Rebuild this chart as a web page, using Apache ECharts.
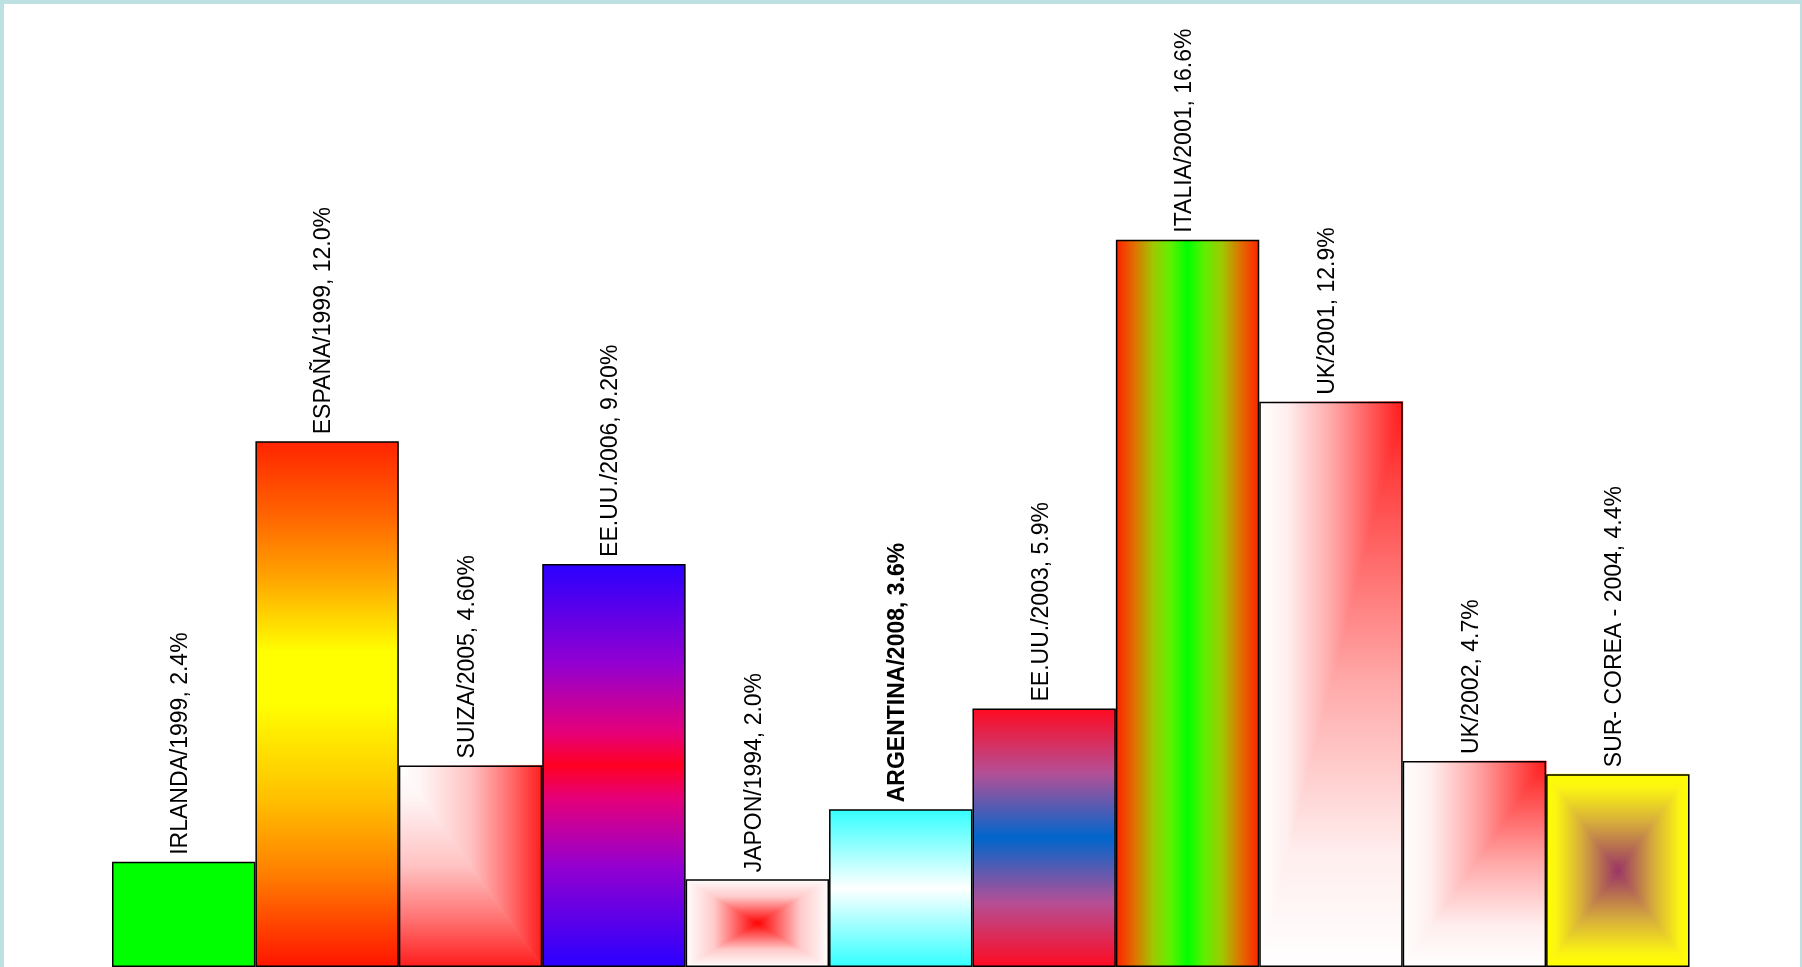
<!DOCTYPE html>
<html>
<head>
<meta charset="utf-8">
<script src="https://cdn.jsdelivr.net/npm/echarts@6/dist/echarts.min.js"></script>
<style>
  html, body { margin: 0; padding: 0; background: #ffffff; }
  #chart { position: absolute; left: 0; top: 0; width: 1802px; height: 967px; }
  #frame {
    position: absolute; left: 0; top: 0; width: 1802px; height: 967px;
    box-sizing: border-box; pointer-events: none;
    border-top: 4px solid #bde0e2; border-left: 4px solid #bde0e2; border-right: 2px solid #bde0e2;
  }
</style>
</head>
<body>
<div id="chart"></div>
<div id="frame"></div>
<script>
// Country / year of each episode
const categories = [
  'IRLANDA/1999', 'ESPAÑA/1999', 'SUIZA/2005', 'EE.UU./2006', 'JAPON/1994',
  'ARGENTINA/2008', 'EE.UU./2003', 'ITALIA/2001', 'UK/2001', 'UK/2002', 'SUR- COREA - 2004'
];
// Percentage for each episode
const values = [2.4, 12.0, 4.6, 9.2, 2.0, 3.6, 5.9, 16.6, 12.9, 4.7, 4.4];
// Percentage as written in each label
const valueLabels = ['2.4%', '12.0%', '4.60%', '9.20%', '2.0%', '3.6%', '5.9%', '16.6%', '12.9%', '4.7%', '4.4%'];

// Fill of each bar: solid colour, linear gradient, or rectangular gradient
// (rectangular: focus point in the bar's unit box, stops run from focus to edge)
const fills = [
  { type: 'solid', color: '#00ff00' },
  { type: 'linear', dir: 'v', stops: [[0, '#ff2400'], [0.14, '#ff6400'], [0.26, '#ffa400'], [0.4, '#ffff00'], [0.5, '#ffff00'], [0.68, '#ffc000'], [0.82, '#ff8000'], [1, '#ff1400']] },
  { type: 'rect', focus: [0, 0], stops: [[0, '#ffffff'], [0.15, '#fff6f6'], [0.5, '#ffc2c2'], [0.75, '#ff7676'], [1, '#ff1c1c']] },
  { type: 'linear', dir: 'v', stops: [[0, '#2a00ff'], [0.25, '#9400d0'], [0.42, '#e60078'], [0.5, '#ff0022'], [0.58, '#e60078'], [0.75, '#9400d0'], [1, '#2a00ff']] },
  { type: 'rect', focus: [0.5, 0.5], stops: [[0, '#ff0000'], [0.3, '#ff6464'], [0.6, '#ffcaca'], [1, '#ffffff']] },
  { type: 'linear', dir: 'v', stops: [[0, '#33ffff'], [0.5, '#ffffff'], [1, '#33ffff']] },
  { type: 'linear', dir: 'v', stops: [[0, '#ff0a20'], [0.25, '#b44f96'], [0.5, '#0066cc'], [0.75, '#b44f96'], [1, '#ff0a20']] },
  { type: 'linear', dir: 'h', stops: [[0, '#ff2000'], [0.13, '#e07000'], [0.26, '#a0c800'], [0.38, '#60f000'], [0.5, '#00ff00'], [0.62, '#60f000'], [0.74, '#a0c800'], [0.87, '#e07000'], [1, '#ff2000']] },
  { type: 'rect', focus: [1, 0], stops: [[0, '#ff1a1a'], [0.5, '#ffaaaa'], [0.8, '#ffeeee'], [1, '#ffffff']] },
  { type: 'rect', focus: [1, 0], stops: [[0, '#ff1a1a'], [0.5, '#ffaaaa'], [0.8, '#ffeeee'], [1, '#ffffff']] },
  { type: 'rect', focus: [0.5, 0.5], stops: [[0, '#993366'], [0.5, '#d6ac3c'], [0.85, '#fbf412'], [1, '#ffff00']] }
];
const boldLabels = ['ARGENTINA/2008'];

function toStops(list) {
  return list.map(s => ({ offset: s[0], color: s[1] }));
}
function reversed(list) {
  return list.map(s => ({ offset: 1 - s[0], color: s[1] })).reverse();
}

function barColor(f) {
  if (f.type === 'solid') return f.color;
  if (f.type === 'linear') {
    return f.dir === 'v'
      ? new echarts.graphic.LinearGradient(0, 0, 0, 1, toStops(f.stops))
      : new echarts.graphic.LinearGradient(0, 0, 1, 0, toStops(f.stops));
  }
  return 'rgba(0,0,0,0)';
}

// Rectangular gradients: four triangles meeting at the focus point,
// each filled with a linear gradient running from the focus to its edge.
function renderRectGradient(params, api) {
  const i = api.value(0);
  const f = fills[i];
  if (f.type !== 'rect') return { type: 'group', children: [] };
  const top = api.coord([i, api.value(1)]);
  const base = api.coord([i, 0]);
  const w = api.size([1, 0])[0];
  const x0 = top[0] - w / 2, x1 = top[0] + w / 2, y0 = top[1], y1 = base[1];
  const fx = x0 + f.focus[0] * (x1 - x0);
  const fy = y0 + f.focus[1] * (y1 - y0);
  const out = toStops(f.stops);
  const back = reversed(f.stops);
  const kids = [];
  const tri = (pts, grad) => kids.push({
    type: 'polygon', shape: { points: pts },
    style: { fill: grad, stroke: grad, lineWidth: 0.8 }
  });
  if (fy - y0 > 0.5) tri([[x0, y0], [x1, y0], [fx, fy]], new echarts.graphic.LinearGradient(0, 0, 0, 1, back));
  if (y1 - fy > 0.5) tri([[x0, y1], [x1, y1], [fx, fy]], new echarts.graphic.LinearGradient(0, 0, 0, 1, out));
  if (fx - x0 > 0.5) tri([[x0, y0], [x0, y1], [fx, fy]], new echarts.graphic.LinearGradient(0, 0, 1, 0, back));
  if (x1 - fx > 0.5) tri([[x1, y0], [x1, y1], [fx, fy]], new echarts.graphic.LinearGradient(0, 0, 1, 0, out));
  return { type: 'group', children: kids };
}

const chart = echarts.init(document.getElementById('chart'), null, { renderer: 'canvas' });
chart.setOption({
  animation: false,
  backgroundColor: '#ffffff',
  grid: { left: 112, width: 1577.5, top: 90.7, height: 878.8 },
  xAxis: { type: 'category', data: categories, show: false },
  yAxis: { type: 'value', min: 0, max: 20, show: false },
  series: [
    {
      type: 'custom',
      z: 1,
      renderItem: renderRectGradient,
      encode: { x: 0, y: 1 },
      data: values.map((v, i) => [i, v])
    },
    {
      type: 'bar',
      z: 2,
      barCategoryGap: '0%',
      data: values.map((v, i) => ({
        value: v,
        itemStyle: { color: barColor(fills[i]) },
        label: { fontWeight: boldLabels.includes(categories[i]) ? 'bold' : 'normal' }
      })),
      itemStyle: { borderColor: '#000000', borderWidth: 1.5 },
      label: {
        show: true,
        position: 'top',
        distance: 7,
        rotate: 90,
        align: 'left',
        verticalAlign: 'middle',
        offset: [0, -3],
        color: '#000000',
        fontFamily: '"Liberation Sans", Arial, sans-serif',
        fontSize: 23,
        formatter: p => categories[p.dataIndex] + ', ' + valueLabels[p.dataIndex]
      }
    }
  ]
});
</script>
</body>
</html>
